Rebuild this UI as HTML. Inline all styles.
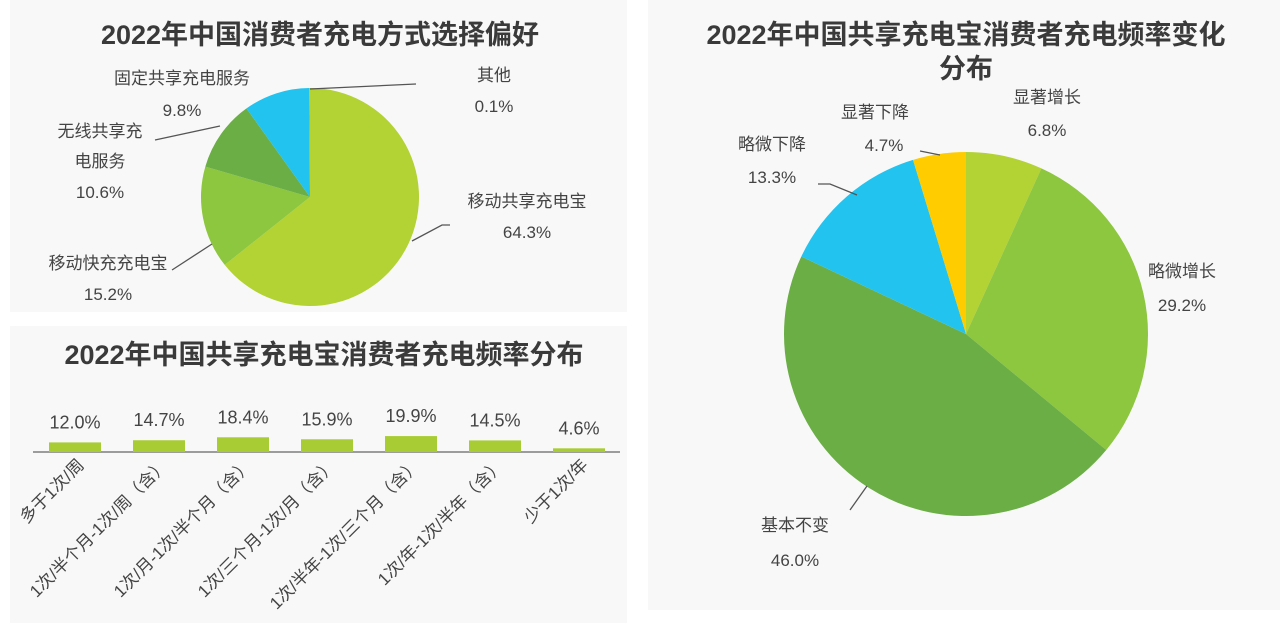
<!DOCTYPE html>
<html><head><meta charset="utf-8">
<style>
body{margin:0;width:1284px;height:623px;background:#fff;overflow:hidden;font-family:"Liberation Sans","Noto Sans CJK SC",sans-serif;}
.panel{position:absolute;background:#f8f8f8;}
svg{position:absolute;left:0;top:0;}
</style></head><body>
<div class="panel" style="left:10px;top:0;width:617px;height:312px"></div>
<div class="panel" style="left:10px;top:326px;width:617px;height:297px"></div>
<div class="panel" style="left:648px;top:0;width:632px;height:610px"></div>
<svg id="s" width="1284" height="623" font-family="Liberation Sans, Noto Sans CJK SC, sans-serif">
<text x="320" y="44" text-anchor="middle" font-size="27" font-weight="bold" fill="#3a3a3a">2022年中国消费者充电方式选择偏好</text>
<text x="324" y="364" text-anchor="middle" font-size="27" font-weight="bold" fill="#3a3a3a">2022年中国共享充电宝消费者充电频率分布</text>
<text x="966" y="44" text-anchor="middle" font-size="27" font-weight="bold" fill="#3a3a3a">2022年中国共享充电宝消费者充电频率变化</text>
<text x="966" y="78" text-anchor="middle" font-size="27" font-weight="bold" fill="#3a3a3a">分布</text>
<g id="p1"></g><g id="bars"></g><g id="p2"></g>
<g fill="#444" font-size="17" stroke="none">
<text x="182" y="84" text-anchor="middle">固定共享充电服务</text><text x="182" y="116" text-anchor="middle">9.8%</text>
<text x="494" y="81" text-anchor="middle">其他</text><text x="494" y="112" text-anchor="middle">0.1%</text>
<text x="100" y="137" text-anchor="middle">无线共享充</text><text x="100" y="167" text-anchor="middle">电服务</text><text x="100" y="198" text-anchor="middle">10.6%</text>
<text x="527" y="207" text-anchor="middle">移动共享充电宝</text><text x="527" y="238" text-anchor="middle">64.3%</text>
<text x="108" y="269" text-anchor="middle">移动快充充电宝</text><text x="108" y="300" text-anchor="middle">15.2%</text>
<text x="875" y="118" text-anchor="middle">显著下降</text><text x="884" y="151" text-anchor="middle">4.7%</text>
<text x="1047" y="103" text-anchor="middle">显著增长</text><text x="1047" y="136" text-anchor="middle">6.8%</text>
<text x="772" y="150" text-anchor="middle">略微下降</text><text x="772" y="183" text-anchor="middle">13.3%</text>
<text x="1182" y="277" text-anchor="middle">略微增长</text><text x="1182" y="311" text-anchor="middle">29.2%</text>
<text x="795" y="531" text-anchor="middle">基本不变</text><text x="795" y="566" text-anchor="middle">46.0%</text>
</g>
<g stroke="#555" stroke-width="1.3" fill="none">
<polyline points="310,89 416,84"/>
<polyline points="220,126 155,140"/>
<polyline points="412,241 442,225 450,225"/>
<polyline points="212,244 172,270"/>
<polyline points="940,155 920,151"/>
<polyline points="857,195 830,184 818,184"/>
<polyline points="867,486 850,510"/>
</g>
</svg>
<script>
const pie1Labels=['移动共享充电宝','移动快充充电宝','无线共享充电服务','固定共享充电服务','其他'];
const pie1Values=[64.3,15.2,10.6,9.8,0.1];
const pie2Labels=['显著增长','略微增长','基本不变','略微下降','显著下降'];
const pie2Values=[6.8,29.2,46.0,13.3,4.7];
const barCats=['多于1次/周','1次/半个月-1次/周（含）','1次/月-1次/半个月（含）','1次/三个月-1次/月（含）','1次/半年-1次/三个月（含）','1次/年-1次/半年（含）','少于1次/年'];
const barValues=[12.0,14.7,18.4,15.9,19.9,14.5,4.6];
const NS='http://www.w3.org/2000/svg';
function mk(t,a,p){const e=document.createElementNS(NS,t);for(const k in a)e.setAttribute(k,a[k]);p.appendChild(e);return e;}
function pie(g,vals,labels,cx,cy,r,cols,nm){
  const tot=vals.reduce((a,b)=>a+b,0);let a0=-Math.PI/2;
  vals.forEach((v,i)=>{const a1=a0+v/tot*2*Math.PI;
    const x0=cx+r*Math.cos(a0),y0=cy+r*Math.sin(a0),x1=cx+r*Math.cos(a1),y1=cy+r*Math.sin(a1);
    const p=mk('path',{d:`M${cx},${cy}L${x0},${y0}A${r},${r} 0 ${a1-a0>Math.PI?1:0} 1 ${x1},${y1}Z`,fill:cols[i]},g);
    
    
    a0=a1;});
}
pie(document.getElementById('p1'),pie1Values,pie1Labels,310,197,109,['#b3d234','#8dc63f','#6aae45','#22c3ef','#b3d234'],'pie1');
pie(document.getElementById('p2'),pie2Values,pie2Labels,966,334,182,['#b3d234','#8dc63f','#6aae45','#22c3ef','#ffcc00'],'pie2');
const bg=document.getElementById('bars');
const x=i=>75+i*84, base=452, h=v=>v*0.8;
const ax=mk('line',{x1:33,x2:620,y1:base,y2:base,stroke:'#666','stroke-width':1.2},bg);


barValues.forEach((v,i)=>{
  const b=mk('rect',{x:x(i)-26,y:base-h(v),width:52,height:h(v),fill:'#a8cc33'},bg);
  
  
  const t=mk('text',{x:x(i),y:base-h(v)-14,'text-anchor':'middle','font-size':18,fill:'#444'},bg);t.textContent=v.toFixed(1)+'%';
  
  
  const l=mk('text',{x:0,y:0,'text-anchor':'end','font-size':17,fill:'#444',transform:`translate(${x(i)+10},${base+14}) rotate(-45)`},bg);l.textContent=barCats[i];
  
  
});
</script>
</body></html>
